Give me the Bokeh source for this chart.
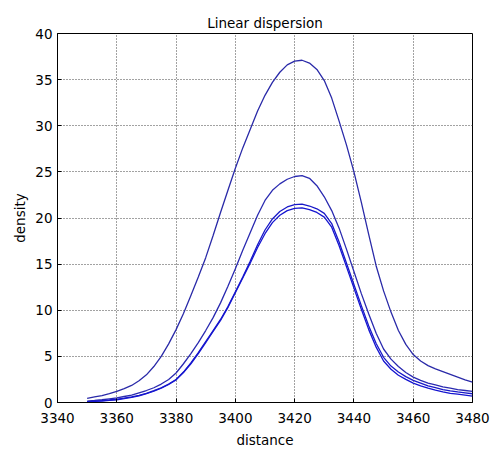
from bokeh.plotting import figure
from bokeh.models import Range1d, FixedTicker
from bokeh.embed import file_html
from bokeh.resources import INLINE

title_text = "Linear dispersion"
x_label = "distance"
y_label = "density"

distance = [3350, 3352.5, 3355, 3357.5, 3360, 3362.5, 3365, 3367.5, 3370, 3372.5,
            3375, 3377.5, 3380, 3382.5, 3385, 3387.5, 3390, 3392.5, 3395, 3397.5,
            3400, 3402.5, 3405, 3407.5, 3410, 3412.5, 3415, 3417.5, 3420, 3422.5,
            3425, 3427.5, 3430, 3432.5, 3435, 3437.5, 3440, 3442.5, 3445, 3447.5,
            3450, 3452.5, 3455, 3457.5, 3460, 3462.5, 3465, 3467.5, 3470, 3472.5,
            3475, 3477.5, 3480]

curve_a = [0.45, 0.6, 0.75, 0.95, 1.2, 1.5, 1.85, 2.35, 3.0, 3.9,
           5.0, 6.35, 7.9, 9.65, 11.6, 13.6, 15.7, 18.1, 20.6, 23.0,
           25.4, 27.6, 29.6, 31.6, 33.3, 34.7, 35.8, 36.6, 37.0, 37.1,
           36.8, 36.1, 34.9, 33.0, 30.5, 27.9, 25.0, 21.7, 18.2, 14.8,
           12.1, 9.8, 7.8, 6.3, 5.2, 4.5, 4.0, 3.65, 3.35, 3.05,
           2.75, 2.45, 2.2]

curve_b = [0.15, 0.22, 0.3, 0.4, 0.5, 0.65, 0.8, 1.05, 1.3, 1.6,
           2.0, 2.5, 3.2, 4.2, 5.3, 6.5, 7.8, 9.2, 10.8, 12.6,
           14.5, 16.5, 18.4, 20.3, 21.9, 23.0, 23.7, 24.2, 24.5, 24.6,
           24.3, 23.5, 22.3, 20.8, 18.9, 16.6, 14.2, 11.8, 9.6, 7.5,
           5.8, 4.7, 3.9, 3.25, 2.75, 2.4, 2.1, 1.9, 1.7, 1.55,
           1.4, 1.3, 1.2]

curve_c = [0.1, 0.15, 0.2, 0.27, 0.35, 0.47, 0.6, 0.78, 1.0, 1.28,
           1.6, 2.0, 2.5, 3.3, 4.3, 5.4, 6.6, 7.8, 9.0, 10.4,
           12.0, 13.6, 15.3, 17.1, 18.7, 19.9, 20.7, 21.2, 21.45, 21.5,
           21.3, 21.0, 20.5, 19.4, 17.4, 15.1, 12.8, 10.5, 8.3, 6.4,
           4.9, 3.95, 3.3, 2.8, 2.4, 2.1, 1.8, 1.6, 1.4, 1.27,
           1.15, 1.05, 0.95]

curve_d = [0.08, 0.12, 0.16, 0.22, 0.3, 0.42, 0.55, 0.73, 0.95, 1.22,
           1.55, 1.95, 2.45, 3.25, 4.2, 5.3, 6.5, 7.7, 8.9, 10.3,
           11.9, 13.5, 15.1, 16.8, 18.3, 19.5, 20.3, 20.8, 21.05, 21.1,
           20.9, 20.6, 20.1, 19.0, 17.0, 14.7, 12.4, 10.1, 7.9, 6.0,
           4.5, 3.6, 2.95, 2.5, 2.1, 1.8, 1.55, 1.33, 1.15, 1.0,
           0.9, 0.8, 0.7]

x_ticks = [3340, 3360, 3380, 3400, 3420, 3440, 3460, 3480]
y_ticks = [0, 5, 10, 15, 20, 25, 30, 35, 40]

FONT = "DejaVu Sans"

p = figure(width=493, height=450, output_backend="svg", toolbar_location=None,
           x_range=Range1d(3340, 3480), y_range=Range1d(0, 40),
           title=title_text, min_border_left=57, min_border_right=21,
           min_border_top=33, min_border_bottom=48)

p.title.align = "center"
p.title.text_font = FONT
p.title.text_font_size = "13.5px"
p.title.text_font_style = "normal"
p.title.text_color = "#000000"
p.title.standoff = 5

p.outline_line_color = "#000000"
p.outline_line_width = 1
p.background_fill_color = "#ffffff"
p.border_fill_color = "#ffffff"

for ax in (p.xaxis[0], p.yaxis[0]):
    ax.axis_line_color = "#000000"
    ax.major_tick_line_color = "#000000"
    ax.major_tick_in = 4
    ax.major_tick_out = 0
    ax.minor_tick_line_color = None
    ax.major_label_text_font = FONT
    ax.major_label_text_font_size = "13.5px"
    ax.major_label_text_color = "#000000"
    ax.axis_label_text_font = FONT
    ax.axis_label_text_font_size = "13.5px"
    ax.axis_label_text_font_style = "normal"
    ax.axis_label_text_color = "#000000"

p.xaxis[0].ticker = FixedTicker(ticks=x_ticks)
p.yaxis[0].ticker = FixedTicker(ticks=y_ticks)
p.xaxis[0].axis_label = x_label
p.yaxis[0].axis_label = y_label
p.xaxis[0].major_label_standoff = 10
p.xaxis[0].axis_label_standoff = 6
p.yaxis[0].major_label_standoff = 5
p.yaxis[0].axis_label_standoff = 4

for g in (p.xgrid[0], p.ygrid[0]):
    g.grid_line_color = "#444444"
    g.grid_line_dash = "1 2"
    g.grid_line_width = 1
    g.grid_line_alpha = 1.0

colors = ["#2a2aa8", "#2a2ab0", "#1818c8", "#1515d0"]
for ys, c in zip([curve_a, curve_b, curve_c, curve_d], colors):
    p.line(distance, ys, line_color=c, line_width=1.3)

open("out.html", "w").write(file_html(p, INLINE))
